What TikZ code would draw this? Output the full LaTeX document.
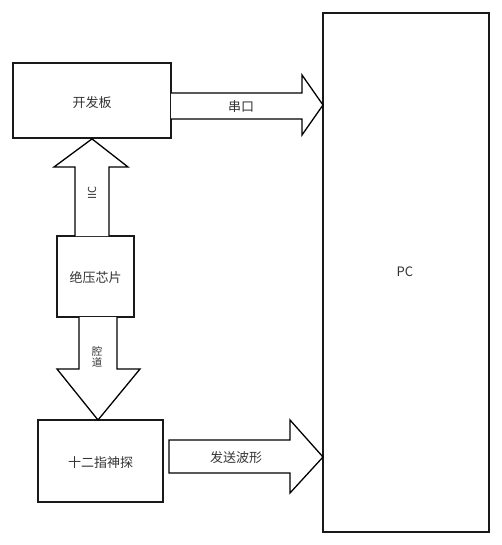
\documentclass[tikz,border=0pt]{standalone}
\usepackage{fontspec}
\setmainfont{Noto Sans CJK SC}

\begin{document}
\begin{tikzpicture}[
    x=1pt, y=-1pt,
    every node/.style={font=\fontsize{13}{15}\selectfont, text=black!80},
    box/.style={draw=black!90, line width=1.8pt, fill=white, inner sep=0pt},
    blk/.style={draw=black, line width=1.3pt, fill=white, line join=miter},
    small/.style={font=\fontsize{11}{11}\selectfont},
]

\useasboundingbox (0,0) rectangle (502,545);

% === Blocks ===
\node[box, minimum width=158, minimum height=75] (board) at (92,100.5) {};
\node[box, minimum width=166, minimum height=519] (pc) at (406,272.5) {};
\node[box, minimum width=77, minimum height=81] (chip) at (95.5,276.5) {};
\node[box, minimum width=125, minimum height=82] (probe) at (100.5,461) {};

% Block labels
\node (boardtxt) at (92,103) {开发板};
\node (pctxt) at (405,272) {PC};
\node (chiptxt) at (95.5,277) {绝压芯片};
\node (probetxt) at (100.5,463) {十二指神探};

% === IIC: chip -> board (up) ===
\draw[blk] (75,236) -- (75,167) -- (54,167) -- (board.south)
    -- (128,167) -- (109,167) -- (109,236);
\node[small, rotate=90] (iic) at (92,193) {IIC};

% === Lumen: chip -> probe (down) ===
\draw[blk] (79,317) -- (79,369) -- (57,369) -- (98,420)
    -- (140,369) -- (117,369) -- (117,317);
\node[font=\fontsize{10.5}{11.5}\selectfont, align=center, inner sep=0pt] (lumen) at (97,357) {腔\\道};

% === Serial: board -> pc ===
\draw[blk] (171,93) -- (302,93) -- (302,75) -- (323,105)
    -- (302,135) -- (302,119) -- (171,119);
\node (serial) at (241,107) {串口};

% === Waveform: probe -> pc ===
\draw[blk] (169,440) -- (290,440) -- (290,420) -- (323,457)
    -- (290,493) -- (290,473) -- (169,473) -- cycle;
\node (wave) at (236,458) {发送波形};

\end{tikzpicture}
\end{document}
